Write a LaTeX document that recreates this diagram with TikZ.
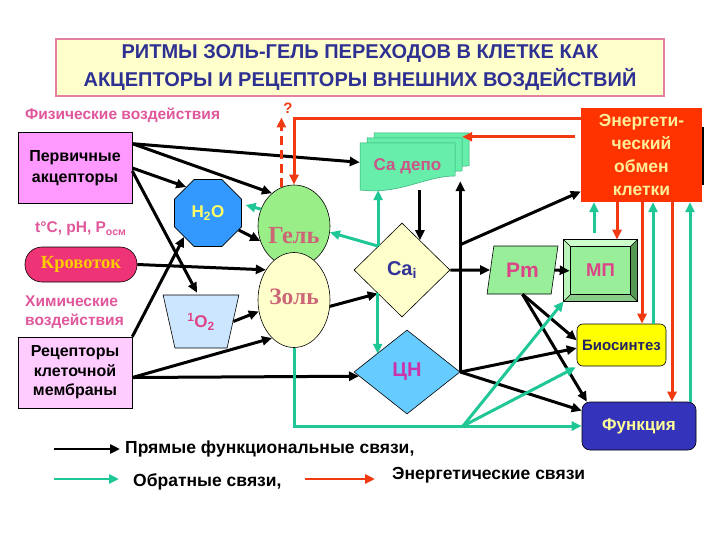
\documentclass[tikz,border=0pt]{standalone}
\usepackage{fontspec}
\setmainfont{Liberation Sans}
\newfontfamily\serif{Liberation Serif}
\usetikzlibrary{shapes.geometric,arrows.meta,calc}
\definecolor{ttl}{HTML}{2E3192}
\definecolor{ttlbox}{HTML}{FFFFCC}
\definecolor{ttlbrd}{HTML}{E37FA0}
\definecolor{pnk}{HTML}{E0579B}
\definecolor{pervf}{HTML}{FF99FF}
\definecolor{recf}{HTML}{FFCCFF}
\definecolor{krovf}{HTML}{EE3377}
\definecolor{krovt}{HTML}{FFCC00}
\definecolor{h2of}{HTML}{3399FF}
\definecolor{h2ot}{HTML}{FFFF66}
\definecolor{gelf}{HTML}{99EE88}
\definecolor{geltxt}{HTML}{CC6677}
\definecolor{lyel}{HTML}{FFFFCC}
\definecolor{o2f}{HTML}{CCE6FF}
\definecolor{cadf}{HTML}{66EEAA}
\definecolor{cadd}{HTML}{33AA77}
\definecolor{cadt}{HTML}{CC5588}
\definecolor{enf}{HTML}{FF3300}
\definecolor{ent}{HTML}{FFEE99}
\definecolor{cnf}{HTML}{66CCFF}
\definecolor{cnt}{HTML}{CC33AA}
\definecolor{pmf}{HTML}{99EE99}
\definecolor{pmt}{HTML}{DD4488}
\definecolor{biof}{HTML}{FFFF00}
\definecolor{biot}{HTML}{222266}
\definecolor{funf}{HTML}{3333BB}
\definecolor{funt}{HTML}{FFFF99}
\definecolor{fb}{HTML}{1FC797}
\definecolor{en}{HTML}{F23A12}
\definecolor{navy}{HTML}{333399}
\definecolor{mpface}{HTML}{99EE99}
\definecolor{mptop}{HTML}{CCFFCC}
\definecolor{mpleft}{HTML}{BBF5BB}
\definecolor{mpright}{HTML}{559955}
\definecolor{mpbot}{HTML}{88CC88}
\begin{document}
\begin{tikzpicture}[x=1pt,y=-1pt,
  tip/.style={-{Triangle[length=10pt,width=9pt]}},
  blk/.style={tip, line width=3pt, black},
  grn/.style={tip, line width=3pt, fb},
  ener/.style={tip, line width=3pt, en},
  bx/.style={draw=black, line width=0.6pt, inner sep=0pt, align=center},
  pinkt/.style={inner sep=0pt, text=pnk, font=\bfseries\fontsize{15.5}{19}\selectfont, align=left},
  legt/.style={inner sep=0pt, anchor=west, font=\bfseries\fontsize{17.5}{18}\selectfont}
]
\useasboundingbox (0,0) rectangle (720,540);
\fill[white] (0,0) rectangle (720,540);

% title
\node[draw=ttlbrd, line width=2.5pt, fill=ttlbox, minimum width=608pt, minimum height=57pt,
  inner sep=0pt, align=center, text=ttl, font=\bfseries\fontsize{20}{28}\selectfont] (title) at (360,67.5)
  {РИТМЫ ЗОЛЬ-ГЕЛЬ ПЕРЕХОДОВ В КЛЕТКЕ КАК\\АКЦЕПТОРЫ И РЕЦЕПТОРЫ ВНЕШНИХ ВОЗДЕЙСТВИЙ};

% left texts
\node[pinkt, anchor=west] (fiz) at (25,115) {Физические воздействия};
\node[pinkt, anchor=west] (tph) at (35,229) {t°C, pH, P\raisebox{-0.3ex}{\fontsize{10.5}{10}\selectfont осм}};
\node[pinkt, anchor=west] (him) at (25,312) {Химические\\воздействия};

% boxes left
\node[bx, fill=pervf, minimum width=114pt, minimum height=71pt, font=\bfseries\fontsize{16}{21}\selectfont] (perv) at (75,168) {Первичные\\акцепторы};
\node[bx, fill=recf, minimum width=114pt, minimum height=71pt, font=\bfseries\fontsize{16}{19.5}\selectfont] (rec) at (75,372.5) {Рецепторы\\клеточной\\мембраны};
\node[bx, fill=krovf, minimum width=112pt, minimum height=35pt, rounded corners=17pt,
  text=krovt, font=\serif\bfseries\fontsize{18.5}{18}\selectfont] (krov) at (81,264.5) {Кровоток};

% H2O and 1O2
\node[draw=black, line width=0.6pt, fill=h2of, regular polygon, regular polygon sides=8, minimum size=72.5pt,
  inner sep=0pt, text=h2ot, font=\bfseries\fontsize{17}{17}\selectfont] (h2o) at (208,213) {H\textsubscript{2}O};
\node[draw=black, line width=0.6pt, fill=o2f, trapezium, trapezium left angle=110, trapezium right angle=110,
  trapezium stretches=true, minimum width=76pt, minimum height=53pt, inner sep=0pt,
  text=pmt, font=\bfseries\fontsize{17}{17}\selectfont] (o2) at (201,321.5) {\textsuperscript{1}O\textsubscript{2}};

% Gel / Sol
\node[draw=black, line width=0.6pt, fill=gelf, ellipse, minimum width=72pt, minimum height=82pt, inner sep=0pt] (gel) at (294,226) {};
\node[draw=black, line width=0.6pt, fill=lyel, ellipse, minimum width=72pt, minimum height=95pt, inner sep=0pt] (zol) at (294,300) {};
\node[inner sep=0pt, text=geltxt, font=\serif\bfseries\fontsize{24.5}{24}\selectfont] (gelt) at (294,236) {Гель};
\node[inner sep=0pt, text=geltxt, font=\serif\bfseries\fontsize{23.5}{24}\selectfont] (zolt) at (294,297) {Золь};

% Ca depo stack
\foreach \d in {14,7,0}{
  \draw[fill=cadf, draw=cadd, line width=0.5pt, shift={(\d,-\d*0.72)}]
    (360,143) -- (455,143) -- (455,176) .. controls (425,176) and (400,195) .. (360,190) -- cycle;
}
\node[inner sep=0pt, minimum width=95pt, minimum height=47pt, text=cadt, font=\bfseries\fontsize{17}{17}\selectfont] (cadep) at (407.5,166.5) {Са депо};

% energy box
\node[fill=enf, minimum width=121pt, minimum height=94pt, inner sep=0pt, align=center, text=ent,
  font=\bfseries\fontsize{17.5}{23}\selectfont] (enr) at (641.5,155) {Энергети-\\ческий\\обмен\\клетки};
\draw[line width=2pt, black] ($(enr.north east)+(1,19)$) -- ($(enr.south east)+(1,-17)$);

% diamonds
\node[draw=black, line width=0.6pt, fill=lyel, diamond, minimum width=96pt, minimum height=94pt, inner sep=0pt,
  text=navy, font=\bfseries\fontsize{20}{20}\selectfont] (cai) at (402,270) {Ca\textsubscript{i}};
\node[draw=black, line width=0.6pt, fill=cnf, diamond, minimum width=106pt, minimum height=84pt, inner sep=0pt,
  text=cnt, font=\bfseries\fontsize{20}{20}\selectfont] (cn) at (407,372) {ЦН};

% Pm
\node[draw=black, line width=0.6pt, fill=pmf, trapezium, trapezium left angle=75, trapezium right angle=105,
  trapezium stretches=true, minimum width=71pt, minimum height=48pt, inner sep=0pt,
  text=pmt, font=\bfseries\fontsize{21}{21}\selectfont] (pm) at (522.5,270) {Pm};

% MP bevel box
\node[draw=black, line width=0.6pt, fill=mpface, minimum width=73pt, minimum height=61pt, inner sep=0pt] (mp) at (600.5,270.5) {};
\fill[mptop] (mp.north west) -- (mp.north east) -- ($(mp.north east)+(-7,7)$) -- ($(mp.north west)+(7,7)$) -- cycle;
\fill[mpleft] (mp.north west) -- (mp.south west) -- ($(mp.south west)+(7,-7)$) -- ($(mp.north west)+(7,7)$) -- cycle;
\fill[mpright] (mp.north east) -- (mp.south east) -- ($(mp.south east)+(-7,-7)$) -- ($(mp.north east)+(-7,7)$) -- cycle;
\fill[mpbot] (mp.south west) -- (mp.south east) -- ($(mp.south east)+(-7,-7)$) -- ($(mp.south west)+(7,-7)$) -- cycle;
\draw[line width=0.6pt] (mp.north west) rectangle (mp.south east);
\draw[line width=0.5pt] ($(mp.north west)+(7,7)$) rectangle ($(mp.south east)+(-7,-7)$);
\draw[line width=0.4pt] (mp.north west) -- ++(7,7) (mp.north east) -- ++(-7,7) (mp.south west) -- ++(7,-7) (mp.south east) -- ++(-7,-7);
\node[inner sep=0pt, text=pmt, font=\bfseries\fontsize{18.5}{18}\selectfont] (mpt) at (mp) {МП};

% Biosintez, Funktsiya
\node[bx, fill=biof, rounded corners=6pt, minimum width=89pt, minimum height=42pt, text=biot,
  font=\bfseries\fontsize{15}{15}\selectfont] (bio) at (621.5,345) {Биосинтез};
\node[bx, fill=funf, rounded corners=8pt, minimum width=114pt, minimum height=48pt, text=funt,
  font=\bfseries\fontsize{17}{17}\selectfont] (func) at (639,426) {Функция};

% question mark
\node[inner sep=0pt, text=en, font=\bfseries\fontsize{15}{15}\selectfont] (q) at (288,108) {?};

% ---- black connectors
\draw[blk] (perv.23) -- (cadep.175);
\draw[blk] (perv.23) -- (gel.124);
\draw[blk] (perv.east) -- (h2o.130);
\draw[blk] (perv.-3) -- ($(o2.north)+(-4,-2)$);
\draw[blk] (rec.north east) -- (h2o.225);
\draw[blk] (h2o.-29) -- (gel.204);
\draw[blk] (krov.east) -- (zol.133);
\draw[blk] (o2.east) -- (zol.198);
\draw[blk] (rec.-5) -- (zol.240);
\draw[blk] (rec.-5) -- (cn.185);
\draw[blk] (zol.-10) -- (cai.224);
\draw[blk] (cadep.south -| cai.59) -- (cai.59);
\draw[blk] (cn.east) -- ($(cn.east |- cadep.south)+(0,-9)$);
\coordinate (br) at ($(cn.east |- cai.north)+(0,22)$);
\draw[blk] (br) -- (enr.211);
\draw[blk] (cai.east) -- (pm.west);
\draw[blk, shorten >=-6pt] (pm.east) -- (mp.west);
\draw[blk] (pm.south) -- (bio.174);
\draw[blk] (pm.south) -- (func.155);
\draw[blk] (cn.east) -- (bio.184);
\draw[blk] (cn.east) -- (func.165);

% ---- green connectors
\draw[grn, shorten >=4pt] (gel.153) -- (h2o.15);
\draw[grn] (cai.135) -- (gel.-10);
\draw[grn] (cai.135) -- (cai.135 |- cadep.south);
\draw[grn] (cai.224) -- (cai.224 |- cn.149);
\draw[grn] (zol.south) |- (func.west);
\coordinate (apex) at ($(zol.south |- func.west)+(169,0)$);
\draw[grn] (apex) -- (mp.south west);
\draw[grn] (apex) -- ($(bio.south west)+(-1,1)$);
\coordinate (g7) at ($(mp.north)+(-6.5,-7)$);
\draw[grn] (g7) -- (g7 |- enr.south);
\coordinate (g8) at ($(bio.north)+(31.5,0)$);
\draw[grn] (g8) -- (g8 |- enr.south);
\coordinate (g9) at ($(func.north)+(51,0)$);
\draw[grn] (g9) -- (g9 |- enr.south);

% ---- red connectors
\coordinate (r1) at ($(enr.north west)+(0,11)$);
\draw[ener] (r1) -| (gel.north);
\draw[ener, dashed, dash pattern=on 9pt off 5pt] (gel.108) -- ($(gel.108 |- q.south)+(0,4)$);
\coordinate (r3) at ($(enr.north west)+(-6,29)$);
\draw[ener] (r3) -- ($(r3 -| cadep.east)+(7,0)$);
\coordinate (r4) at ($(mp.north)+(16.5,0)$);
\draw[ener] (r4 |- enr.south) -- (r4);
\coordinate (r5) at ($(bio.north)+(20.5,0)$);
\draw[ener] (r5 |- enr.south) -- (r5);
\coordinate (r6) at ($(func.north)+(33,0)$);
\draw[ener] (r6 |- enr.south) -- (r6);

% ---- legend
\coordinate (l1) at (54,449);
\node[legt] (leg1) at (125,449) {Прямые функциональные связи,};
\draw[blk, line width=2.5pt, shorten >=5pt] (l1) -- (leg1.west);
\coordinate (l2) at (54,479);
\node[legt] (leg2) at (133,482) {Обратные связи,};
\draw[grn, line width=2.5pt] (l2) -- ($(leg2.west |- l2)+(-14,0)$);
\coordinate (l3) at (305,479);
\node[legt] (leg3) at (392,475) {Энергетические связи};
\draw[ener, line width=2.5pt] (l3) -- ($(leg3.west |- l3)+(-17,0)$);
\end{tikzpicture}
\end{document}
